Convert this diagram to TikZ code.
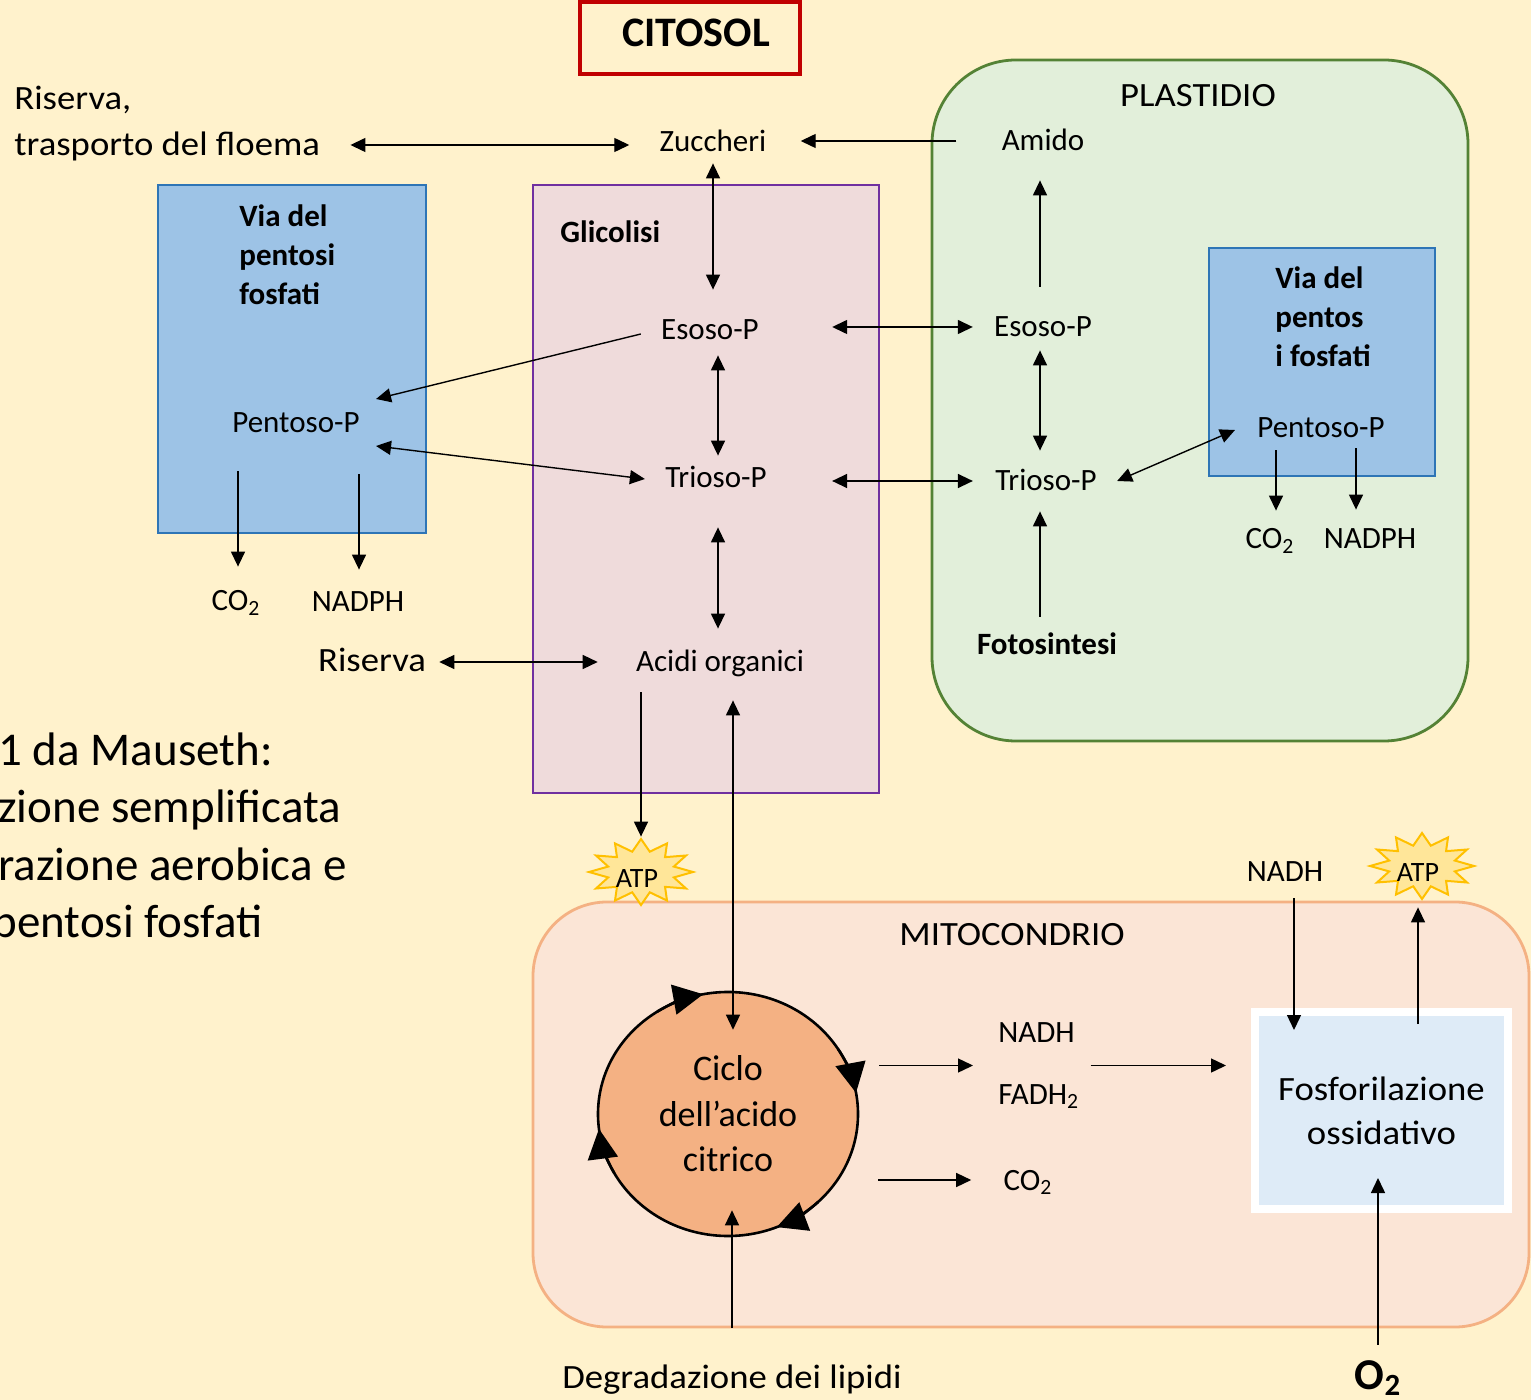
\documentclass[tikz,border=0pt]{standalone}
\usepackage{fontspec}
\setmainfont{Carlito}
\newfontfamily\mediumFont[FakeStretch=1.08]{Carlito}
\usepackage{xcolor}
\definecolor{BGCOLOR}{HTML}{FFF2CC}
\definecolor{CITOCOLOR}{HTML}{C00000}
\definecolor{PPPCOLOR}{HTML}{9DC3E6}
\definecolor{PPPLINE}{HTML}{2E75B6}
\definecolor{GLYCOLOR}{HTML}{EFDBDB}
\definecolor{GLYLINE}{HTML}{7030A0}
\definecolor{PLASTCOLOR}{HTML}{E2EFDA}
\definecolor{PLASTLINE}{HTML}{548235}
\definecolor{MITOCOLOR}{HTML}{FBE5D6}
\definecolor{MITOLINE}{HTML}{F4B183}
\definecolor{CYCLECOLOR}{HTML}{F4B183}
\definecolor{FOSFCOLOR}{HTML}{DEEBF7}
\definecolor{STARCOLOR}{HTML}{FFE699}
\definecolor{STARLINE}{HTML}{FFC000}
\usepackage{tikz}
\usetikzlibrary{arrows.meta,shapes.geometric,backgrounds}
\tikzset{
  label-style/.style = {
    inner sep=0pt, text height=10pt, text depth=0pt,
    font=\fontsize{15.5pt}{18.6pt}\selectfont
  },
  big-style/.style = {
    label-style, text height=11pt,
    font=\mediumFont\fontsize{17pt}{22pt}\selectfont
  },
  bold-style/.style = {
    label-style, font=\bfseries\fontsize{15.5pt}{18.6pt}\selectfont
  },
  via-style/.style = {
    inner sep=0pt, align=left, anchor=north west,
    font=\bfseries\fontsize{15.5pt}{19.5pt}\selectfont
  },
  note-style/.style = {
    inner sep=0pt, align=left, anchor=north west,
    font=\fontsize{23.5pt}{28.75pt}\selectfont
  },
  region-style/.style 2 args = {
    rectangle, draw=#2, fill=#1, line width=1.4pt, inner sep=0pt
  },
  cito-style/.style = {
    rectangle, draw=CITOCOLOR, line width=2pt,
    minimum width=110pt, minimum height=36pt
  },
  cycle-style/.style = {
    ellipse, draw, fill=CYCLECOLOR, line width=1.3pt, inner sep=0pt,
    minimum width=130pt, minimum height=122pt, align=center,
    font=\fontsize{18pt}{22.75pt}\selectfont
  },
  fosf-style/.style = {
    rectangle, draw=white, fill=FOSFCOLOR, line width=4pt, inner sep=0pt,
    minimum width=126.5pt, minimum height=98.5pt, align=center,
    font=\mediumFont\fontsize{17pt}{22pt}\selectfont
  },
  star-style/.style = {
    draw=STARLINE, fill=STARCOLOR, line width=1pt, line join=miter
  },
  atp-style/.style = {
    label-style, text height=9pt, font=\fontsize{14pt}{16.8pt}\selectfont
  },
  flow/.style = {
    draw, line width=0.7pt, -{Triangle[length=7.5pt,width=7pt]}
  },
  flow-both/.style = {
    flow, {Triangle[length=7.5pt,width=7pt]}-{Triangle[length=7.5pt,width=7pt]}
  },
  cycle-tip/.style = {
    line width=1.3pt, -{Triangle[length=15pt,width=15pt]}
  },
  main-style/.style = {
    x=0.5pt, y=-0.5pt,
    execute at end picture = {
      \begin{pgfonlayer}{background}
        \fill[BGCOLOR] (0,0) rectangle (1531,1400);
      \end{pgfonlayer}
    }
  }
}
\def\createStar name:#1 at:#2;{
  \path[star-style] #2 +(52,0)
    \foreach \k in {1,...,23} {
      -- +({ifthenelse(mod(\k,2)==0,52,34)*cos(15*\k)},
           {ifthenelse(mod(\k,2)==0,33,21)*sin(15*\k)})
    } -- cycle;
  \node[atp-style, xshift=-2pt, yshift=-3pt] (#1) at #2 {ATP};
}

\begin{document}
\begin{tikzpicture}[main-style]
  \useasboundingbox (0,0) rectangle (1531,1400);

  \node[region-style={PLASTCOLOR}{PLASTLINE}, rounded corners=42pt,
        minimum width=268pt, minimum height=340.5pt] (plast) at (1200,400.5) {};
  \node[region-style={GLYCOLOR}{GLYLINE},
        minimum width=173pt, minimum height=304pt] (glyco) at (706,489) {};
  \node[region-style={PPPCOLOR}{PPPLINE},
        minimum width=134pt, minimum height=174pt] (pppL) at (292,359) {};
  \node[region-style={PPPCOLOR}{PPPLINE},
        minimum width=113pt, minimum height=114pt] (pppR) at (1322,362) {};
  \node[region-style={MITOCOLOR}{MITOLINE}, rounded corners=37pt,
        minimum width=498pt, minimum height=212.5pt] (mito) at (1031,1114.5) {};
  \node[cito-style, label={[xshift=3pt, yshift=2.5pt,
        font=\bfseries\fontsize{21pt}{25pt}\selectfont]center:CITOSOL}] (citosol) at (690,38) {};

  \node[big-style, anchor=west] (riservaTop) at (14,99) {Riserva,};
  \node[big-style, anchor=west] (floema) at (14,145) {trasporto del floema};
  \node[label-style] (zucch) at (713,142) {Zuccheri};
  \node[label-style] (amido) at (1043,141) {Amido};
  \node[big-style] (plastidio) at (1198,96) {PLASTIDIO};

  \node[bold-style, anchor=west] (glicolisi) at (560,233) {Glicolisi};
  \node[via-style] (viaL) at (239,204) {Via del\\pentosi\\fosfati};
  \node[label-style] (pentL) at (296,423) {Pentoso-P};
  \node[label-style] (co2L) at (236,601) {CO\textsubscript{2}};
  \node[label-style] (nadphL) at (358,602) {NADPH};
  \node[label-style] (esosoG) at (710,330) {Esoso-P};
  \node[label-style] (triosoG) at (716,478) {Trioso-P};
  \node[label-style] (acidi) at (720,662) {Acidi organici};
  \node[big-style] (riservaM) at (372,661) {Riserva};

  \node[label-style] (esosoP) at (1043,327) {Esoso-P};
  \node[label-style] (triosoP) at (1046,481) {Trioso-P};
  \node[bold-style] (fotos) at (1047,645) {Fotosintesi};
  \node[via-style] (viaR) at (1275,266) {Via del\\pentos\\i fosfati};
  \node[label-style] (pentR) at (1321,428) {Pentoso-P};
  \node[label-style] (co2R) at (1270,539) {CO\textsubscript{2}};
  \node[label-style] (nadphR) at (1370,539) {NADPH};

  \node[note-style] (note) at (-2,732)
    {1 da Mauseth:\\zione semplificata\\razione aerobica e\\\hspace*{-3pt}pentosi fosfati};

  \createStar name:atpL at:(641,872);
  \createStar name:atpR at:(1422,866);
  \node[label-style] (nadhTop) at (1285,871) {NADH};

  \node[big-style] (mitoTitle) at (1012,934) {MITOCONDRIO};
  \node[cycle-style] (ciclo) at (728,1114) {Ciclo\\dell’acido\\citrico};
  \foreach \tip in {259,350,68,173}
    \draw[cycle-tip] ([shift={(\tip-22:130 and 122)}]ciclo.center)
      arc[start angle=\tip-22, end angle=\tip, x radius=130, y radius=122];
  \node[inner sep=0pt, align=left, anchor=north west,
        font=\fontsize{15.5pt}{31pt}\selectfont] (nadhfadh) at (998,1022)
    {NADH\\FADH\textsubscript{2}};
  \node[label-style] (co2M) at (1028,1180) {CO\textsubscript{2}};
  \node[fosf-style] (fosf) at (1381.5,1110.5) {Fosforilazione\\ossidativo};
  \node[big-style] (lipidi) at (732,1377) {Degradazione dei lipidi};
  \node[label-style, text height=14pt,
        font=\bfseries\fontsize{22pt}{26pt}\selectfont] (o2) at (1378,1375)
    {O\textsubscript{2}};

  \draw[flow-both, shorten <=15pt, shorten >=15pt] (floema.east) -- (floema.east -| zucch.west);
  \draw[flow, shorten <=22.5pt, shorten >=17pt] (amido.west) -- (amido.west -| zucch.east);
  \draw[flow-both, shorten <=5.5pt, shorten >=15pt] (zucch.south) -- (zucch.south |- esosoG.north);
  \draw[flow] ([xshift=-10pt,yshift=-2pt]esosoG.west) -- ([xshift=8pt,yshift=12pt]pentL.east);
  \draw[flow-both] ([xshift=8pt,yshift=-11.5pt]pentL.east) -- ([xshift=-10pt,yshift=-0.5pt]triosoG.west);
  \draw[flow-both, shorten <=7.5pt, shorten >=6pt] ([xshift=4pt]esosoG.south) -- ([xshift=4pt]esosoG.south |- triosoG.north);
  \draw[flow-both, shorten <=19.5pt, shorten >=11.5pt] ([xshift=1pt]triosoG.south) -- ([xshift=1pt]triosoG.south |- acidi.north);
  \draw[flow-both, shorten <=6.5pt, shorten >=19pt] (acidi.west -| riservaM.east) -- (acidi.west);
  \draw[flow-both, shorten <=36.5pt, shorten >=10.5pt] (esosoP.west -| esosoG.east) -- (esosoP.west);
  \draw[flow-both, shorten <=32.5pt, shorten >=11pt] (triosoP.west -| triosoG.east) -- (triosoP.west);
  \draw[flow, shorten <=19pt, shorten >=12pt] ([xshift=1pt]co2L.north |- pentL.south) -- ([xshift=1pt]co2L.north);
  \draw[flow, shorten <=20.5pt, shorten >=11pt] ([xshift=0.5pt]nadphL.north |- pentL.south) -- ([xshift=0.5pt]nadphL.north);

  \draw[flow, shorten <=15pt, shorten >=14.5pt] ([xshift=-1.5pt]esosoP.north) -- ([xshift=-1.5pt]esosoP.north |- amido.south);
  \draw[flow-both, shorten <=6.5pt, shorten >=10pt] ([xshift=-1.5pt]esosoP.south) -- ([xshift=-1.5pt]esosoP.south |- triosoP.north);
  \draw[flow, shorten <=9pt, shorten >=10pt] ([xshift=-3.5pt]fotos.north) -- ([xshift=-3.5pt]fotos.north |- triosoP.south);
  \draw[flow-both] ([xshift=10pt]triosoP.east) -- ([xshift=-11pt,yshift=-1pt]pentR.west);
  \draw[flow, shorten <=6pt, shorten >=9pt] ([xshift=3pt]co2R.north |- pentR.south) -- ([xshift=3pt]co2R.north);
  \draw[flow, shorten <=5pt, shorten >=9.5pt] ([xshift=-7pt]nadphR.north |- pentR.south) -- ([xshift=-7pt]nadphR.north);

  \draw[flow, shorten <=10pt, shorten >=16pt] ([xshift=2pt]atpL.north |- acidi.south) -- ([xshift=2pt]atpL.north);
  \draw[flow-both, shorten <=14pt, shorten >=-19.5pt] ([xshift=2.5pt]ciclo.north |- acidi.south) -- ([xshift=2.5pt]ciclo.north);
  \draw[flow, shorten <=10pt, shorten >=12.5pt] (nadhfadh.west -| ciclo.east) -- (nadhfadh.west);
  \draw[flow, shorten <=5.5pt, shorten >=12.5pt] (nadhfadh.east) -- (nadhfadh.east -| fosf.west);
  \draw[flow, shorten <=9.5pt, shorten >=16pt] (co2M.west -| ciclo.east) -- (co2M.west);
  \draw[flow, shorten <=8.5pt, shorten >=-11pt] ([xshift=4.5pt]nadhTop.south) -- ([xshift=4.5pt]nadhTop.south |- fosf.north);
  \draw[flow, shorten <=-8pt, shorten >=13pt] (atpR.south |- fosf.north) -- (atpR.south);
  \draw[flow, shorten <=8pt, shorten >=-17.5pt] (o2.north) -- (o2.north |- fosf.south);
  \draw[flow, shorten <=19pt, shorten >=-13.5pt] (lipidi.north) -- (lipidi.north |- ciclo.south);
\end{tikzpicture}
\end{document}
